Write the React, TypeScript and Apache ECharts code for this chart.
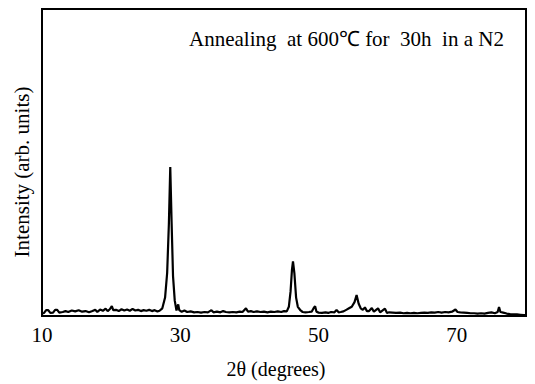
import React, { useEffect, useRef } from "react";
import * as echarts from "echarts";

// 2θ positions (degrees) and intensities (arb. units, 0–100 scale)
const twoTheta: number[] = [
  10.0, 10.3, 10.6, 10.9, 11.2, 11.6, 11.9, 12.2, 12.5, 13.0, 13.4, 13.8, 14.3, 14.8, 15.3, 15.8,
  16.3, 16.8, 17.3, 17.7, 18.0, 18.4, 18.8, 19.2, 19.5, 19.8, 20.1, 20.3, 20.7, 21.1, 21.5, 21.9,
  22.3, 22.7, 23.1, 23.5, 23.9, 24.3, 24.7, 25.1, 25.5, 25.9, 26.3, 26.7, 27.0,
  27.4, 27.8, 28.1, 28.35, 28.55, 28.75, 28.95, 29.2, 29.45, 29.7, 29.85,
  30.2, 30.6, 31.0, 31.5, 32.0, 32.5, 33.0, 33.5, 34.0, 34.5, 34.8, 35.3, 35.8, 36.2, 36.6, 37.1,
  37.6, 38.1, 38.6, 39.0, 39.5, 39.8, 40.2, 40.6, 41.1, 41.6, 42.1, 42.6, 43.1, 43.6, 44.1, 44.6,
  45.0, 45.4, 45.7, 45.95, 46.15, 46.3, 46.5, 46.75, 47.0, 47.4, 47.7,
  48.1, 48.6, 49.0, 49.3, 49.5, 49.7, 50.0, 50.5, 51.0, 51.4, 51.8, 52.3, 52.6, 52.9, 53.2,
  53.6, 54.0, 54.4, 54.8, 55.2, 55.5, 55.8, 56.1, 56.4, 56.7, 57.0, 57.3, 57.7, 58.0, 58.6, 58.9,
  59.6, 59.9, 60.2, 60.7, 61.2, 61.8, 62.3, 62.8, 63.3, 63.8, 64.3, 64.8, 65.3, 65.8, 66.3, 66.8,
  67.3, 67.8, 68.3, 68.8, 69.3, 69.8, 70.1, 70.5, 71.0, 71.5, 72.0, 72.5, 73.0, 73.5, 74.0, 74.5,
  75.0, 75.5, 75.9, 76.1, 76.3, 76.7, 77.2, 77.7, 78.2, 78.7, 79.2, 79.7, 80.0,
];

const intensity: number[] = [
  0.8, 1.0, 1.9, 1.9, 1.0, 1.1, 2.0, 2.0, 1.1, 1.3, 1.6, 1.3, 1.8, 1.5, 1.9, 1.4,
  1.6, 1.2, 1.6, 2.0, 1.3, 2.1, 1.7, 2.4, 1.6, 2.2, 3.2, 1.9, 2.0, 1.6, 2.2, 1.8,
  2.1, 1.7, 2.3, 1.8, 2.0, 1.6, 1.9, 1.7, 2.0, 1.6, 1.9, 1.5, 1.7,
  2.5, 6.0, 14.0, 30.0, 48.5, 30.0, 13.0, 5.0, 1.8, 3.8, 1.9,
  1.4, 1.8, 1.3, 1.5, 1.2, 1.3, 1.1, 1.3, 1.2, 1.9, 1.2, 1.4, 1.2, 1.6, 1.3, 1.2,
  1.3, 1.2, 1.4, 1.3, 2.5, 1.4, 1.6, 1.3, 1.5, 1.3, 1.4, 1.2, 1.4, 1.3, 1.5, 1.3,
  1.6, 1.5, 3.0, 8.0, 15.0, 17.8, 14.0, 6.0, 3.0, 1.8, 1.3,
  1.2, 1.3, 1.4, 2.6, 3.2, 1.4, 1.1, 1.0, 1.2, 1.0, 1.3, 1.2, 2.0, 1.2, 1.3,
  1.5, 2.0, 2.5, 3.0, 4.5, 6.8, 4.0, 2.5, 2.0, 2.8, 1.6, 1.6, 2.6, 1.4, 2.5, 1.2,
  2.4, 1.0, 1.2, 1.1, 1.0, 1.1, 0.9, 1.0, 0.9, 1.0, 0.9, 1.0, 1.1, 1.0, 1.2, 1.1,
  1.3, 1.1, 1.3, 1.2, 1.4, 2.1, 1.3, 1.2, 1.1, 1.0, 0.9, 0.9, 0.8, 0.9, 0.8, 1.0,
  1.2, 0.9, 1.3, 2.9, 1.3, 1.1, 0.8, 0.6, 0.5, 0.5, 0.4, 0.3, 0.3,
];

const xTickStart = 10;
const xTickStep = 20;
const xMax = 80;
const xAxisTitle = "2θ (degrees)";
const yAxisTitle = "Intensity (arb. units)";
const annotation = "Annealing  at 600℃ for  30h  in a N2";

const SERIF = "'Liberation Serif', 'Times New Roman', serif";

export default function App() {
  const ref = useRef<HTMLDivElement>(null);

  useEffect(() => {
    if (!ref.current) return;
    const chart = echarts.init(ref.current, null, { renderer: "svg" });
    const points = twoTheta.map((t, i) => [t, intensity[i]]);
    chart.setOption({
      animation: false,
      backgroundColor: "#fff",
      grid: {
        left: 42,
        right: 9,
        top: 9,
        bottom: 66,
        show: true,
        borderColor: "#000",
        borderWidth: 2,
        backgroundColor: "transparent",
      },
      xAxis: {
        type: "value",
        min: xTickStart,
        max: xMax,
        interval: xTickStep,
        name: xAxisTitle,
        nameLocation: "middle",
        nameGap: 43,
        nameTextStyle: {
          fontFamily: SERIF,
          fontSize: 20,
          color: "#000",
          padding: [0, 16, 0, 0],
        },
        axisLine: { show: true, lineStyle: { color: "#000", width: 2 } },
        axisTick: { show: false },
        splitLine: { show: false },
        axisLabel: {
          fontFamily: SERIF,
          fontSize: 21,
          color: "#000",
          margin: 8,
          showMaxLabel: false,
          formatter: (v: number) => (v === xMax ? "" : String(v)),
        },
      },
      yAxis: {
        type: "value",
        min: 0,
        max: 100,
        axisLine: { show: true, lineStyle: { color: "#000", width: 2 } },
        axisTick: { show: false },
        axisLabel: { show: false },
        splitLine: { show: false },
      },
      graphic: [
        {
          type: "text",
          x: 22,
          y: 172,
          rotation: Math.PI / 2,
          style: {
            text: yAxisTitle,
            fontFamily: SERIF,
            fontSize: 21,
            fill: "#000",
            align: "center",
            verticalAlign: "middle",
          },
        },
        {
          type: "text",
          left: 189,
          top: 28,
          style: {
            text: annotation,
            fontFamily: SERIF,
            fontSize: 21,
            fill: "#000",
          },
        },
      ],
      series: [
        {
          type: "line",
          data: points,
          showSymbol: false,
          symbol: "none",
          lineStyle: { color: "#000", width: 2.2 },
          emphasis: { disabled: true },
        },
      ],
    });
    return () => chart.dispose();
  }, []);

  return (
    <div
      ref={ref}
      style={{ position: "fixed", left: 0, top: 0, width: 535, height: 384, background: "#fff" }}
    />
  );
}
